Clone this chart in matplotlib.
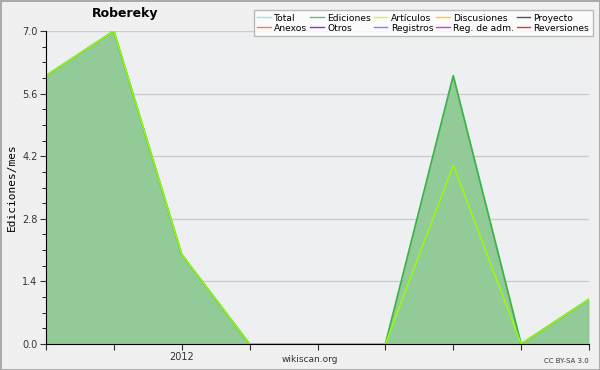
import matplotlib
matplotlib.use('Agg')
import matplotlib.pyplot as plt
from matplotlib.ticker import MultipleLocator
from matplotlib.lines import Line2D

# monthly edit counts
meses = [0, 1, 2, 3, 4, 5, 6, 7, 8]
ediciones = [6, 7, 2, 0, 0, 0, 6, 0, 1]
articulos = [6, 7, 2, 0, 0, 0, 4, 0, 1]
yticks = [0.0, 1.4, 2.8, 4.2, 5.6, 7.0]

leyenda = ['Total', 'Anexos', 'Ediciones', 'Otros', 'Artículos', 'Registros',
           'Discusiones', 'Reg. de adm.', 'Proyecto', 'Reversiones']
colores = ['#99e6e6', '#ff8033', '#66c066', '#8833dd', '#ccff33', '#7f7fff',
           '#ffcc22', '#dd33ee', '#555555', '#ee3333']

fig = plt.figure(figsize=(6, 3.7), dpi=100, facecolor='#f0f0f0',
                 edgecolor='#aaaaaa', linewidth=2)
ax = fig.add_axes([46/600, 26/370, 543/600, 313/370])
ax.set_facecolor('#eeeff1')

ax.fill_between(meses, ediciones, 0, color='#93cb98', lw=0)
ax.plot(meses, ediciones, color='#3cb44a', lw=1.3)
ax.plot(meses, articulos, color='#99ff00', lw=1)

ax.set_xlim(0, 8)
ax.set_ylim(0, 7)
ax.set_yticks(yticks)
ax.set_yticklabels(['%.1f' % v for v in yticks])
ax.yaxis.set_minor_locator(MultipleLocator(0.35))
ax.set_xticks(meses)
ax.set_xticklabels(['', '', '2012', '', '', '', '', '', ''])
ax.grid(axis='y', color='#cccccc', lw=1)
ax.set_axisbelow(True)
for s in ['top', 'right']:
    ax.spines[s].set_visible(False)
ax.tick_params(labelsize=7, length=4, colors='#333333', pad=2)
ax.tick_params(which='minor', length=3)
ax.set_ylabel('Ediciones/mes', fontsize=8, family='DejaVu Sans Mono')

fig.text(125/600, 1 - 14/370, 'Robereky', fontsize=9, fontweight='bold', ha='center', va='center')
fig.text(310/600, 1 - 360/370, 'wikiscan.org', fontsize=6.5, ha='center', va='center', color='#333333')
fig.text(589/600, 1 - 361/370, 'CC BY-SA 3.0', fontsize=5, ha='right', va='center', color='#333333')

handles = [Line2D([], [], color=c, lw=1) for c in colores]
leg = fig.legend(handles, leyenda, ncol=5, loc='upper right', bbox_to_anchor=(593/600, 1 - 10/370),
                 borderaxespad=0, fontsize=6.6, frameon=True, fancybox=False, edgecolor='#aaaaaa',
                 handlelength=1.5, handletextpad=0.35, columnspacing=0.3,
                 labelspacing=0.1, borderpad=0.4)
leg.get_frame().set_facecolor('white')

fig.savefig('out.png', dpi=100, facecolor=fig.get_facecolor(), edgecolor=fig.get_edgecolor())
